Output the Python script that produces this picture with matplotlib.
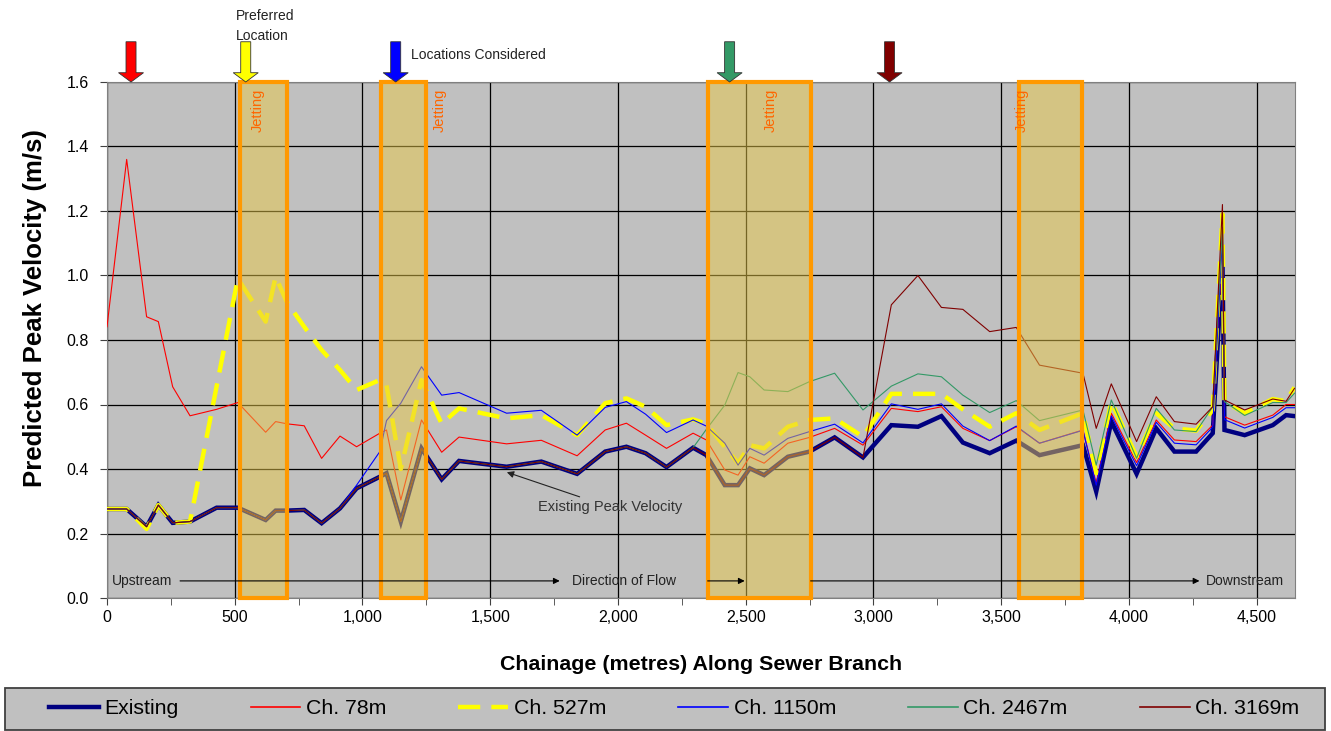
import matplotlib.pyplot as plt
from matplotlib.patches import Rectangle, Polygon
from matplotlib.lines import Line2D
from matplotlib.ticker import MultipleLocator, FuncFormatter

plt.rcParams['font.family'] = ['Liberation Sans', 'DejaVu Sans']

# chainage (m) of model nodes along the branch
chainage = [0, 77, 155, 201, 257, 325, 429, 512, 621, 660, 705, 772, 840, 912,
            977, 1068, 1094, 1150, 1231, 1310, 1378, 1564, 1700, 1840, 1950, 2033,
            2108, 2190, 2294, 2346, 2418, 2470, 2516, 2572, 2665, 2750, 2848, 2959,
            3070, 3174, 3266, 3350, 3455, 3559, 3650, 3820, 3872, 3931, 4030, 4107,
            4178, 4263, 4328, 4366, 4374, 4453, 4563, 4615, 4648]

existing = [0.276, 0.276, 0.221, 0.288, 0.233, 0.237, 0.280, 0.280, 0.242, 0.271, 0.271, 0.273, 0.232, 0.278,
            0.340, 0.376, 0.387, 0.237, 0.464, 0.368, 0.425, 0.407, 0.423, 0.385, 0.454, 0.469,
            0.449, 0.406, 0.466, 0.443, 0.350, 0.350, 0.402, 0.381, 0.438, 0.454, 0.498, 0.436,
            0.536, 0.531, 0.564, 0.482, 0.449, 0.488, 0.443, 0.474, 0.330, 0.547, 0.385, 0.526,
            0.454, 0.454, 0.511, 1.050, 0.521, 0.505, 0.536, 0.567, 0.564]

ch78 = [0.841, 1.360, 0.872, 0.857, 0.655, 0.565, 0.585, 0.606, 0.514, 0.547, 0.540, 0.534, 0.433, 0.502,
        0.469, 0.511, 0.521, 0.304, 0.552, 0.452, 0.499, 0.478, 0.489, 0.441, 0.521, 0.542,
        0.505, 0.464, 0.511, 0.490, 0.397, 0.381, 0.438, 0.418, 0.480, 0.498, 0.526, 0.474,
        0.588, 0.578, 0.593, 0.526, 0.488, 0.531, 0.480, 0.521, 0.356, 0.573, 0.420, 0.552,
        0.490, 0.485, 0.536, 1.100, 0.562, 0.536, 0.567, 0.600, 0.600]

ch527 = [0.276, 0.276, 0.214, 0.288, 0.233, 0.237, 0.656, 0.990, 0.857, 0.996, 0.916, 0.841, 0.769, 0.707,
         0.645, 0.676, 0.660, 0.400, 0.676, 0.540, 0.588, 0.557, 0.567, 0.505, 0.604, 0.619,
         0.593, 0.536, 0.554, 0.540, 0.469, 0.418, 0.474, 0.464, 0.531, 0.552, 0.557, 0.500,
         0.633, 0.633, 0.633, 0.585, 0.531, 0.573, 0.521, 0.573, 0.387, 0.609, 0.438, 0.573,
         0.526, 0.519, 0.583, 1.190, 0.609, 0.573, 0.617, 0.610, 0.653]

ch1150 = [0.276, 0.276, 0.221, 0.288, 0.233, 0.237, 0.280, 0.280, 0.242, 0.271, 0.271, 0.273, 0.232, 0.278,
          0.350, 0.454, 0.550, 0.604, 0.717, 0.629, 0.637, 0.573, 0.582, 0.505, 0.591, 0.609,
          0.570, 0.513, 0.552, 0.533, 0.480, 0.412, 0.464, 0.443, 0.495, 0.516, 0.539, 0.481,
          0.602, 0.585, 0.602, 0.533, 0.488, 0.533, 0.480, 0.520, 0.350, 0.565, 0.410, 0.545,
          0.480, 0.475, 0.530, 1.120, 0.553, 0.527, 0.560, 0.590, 0.590]

ch2467 = [0.276, 0.276, 0.221, 0.288, 0.233, 0.237, 0.280, 0.280, 0.242, 0.271, 0.271, 0.273, 0.232, 0.278,
          0.340, 0.376, 0.387, 0.237, 0.464, 0.368, 0.425, 0.407, 0.423, 0.385, 0.454, 0.469,
          0.449, 0.406, 0.466, 0.523, 0.598, 0.699, 0.686, 0.645, 0.640, 0.671, 0.697, 0.583,
          0.657, 0.695, 0.686, 0.629, 0.575, 0.612, 0.550, 0.583, 0.412, 0.614, 0.433, 0.588,
          0.521, 0.516, 0.593, 1.150, 0.609, 0.566, 0.606, 0.606, 0.635]

ch3169 = [0.276, 0.276, 0.221, 0.288, 0.233, 0.237, 0.280, 0.280, 0.242, 0.271, 0.271, 0.273, 0.232, 0.278,
          0.340, 0.376, 0.387, 0.237, 0.464, 0.368, 0.425, 0.407, 0.423, 0.385, 0.454, 0.469,
          0.449, 0.406, 0.466, 0.443, 0.350, 0.350, 0.402, 0.381, 0.438, 0.454, 0.498, 0.436,
          0.909, 1.000, 0.901, 0.895, 0.826, 0.839, 0.722, 0.697, 0.526, 0.664, 0.485, 0.624,
          0.547, 0.539, 0.593, 1.220, 0.614, 0.583, 0.617, 0.610, 0.650]

# jetting zones (start, end chainage) and where their labels sit
jet_start = [520, 1072, 2351, 3568]
jet_end = [704, 1248, 2754, 3815]
jet_label_x = [591, 1303, 2600, 3580]

# locations considered (arrows above the plot)
arrow_x = [94, 543, 1130, 2437, 3063]
arrow_colors = ['#FF0000', '#FFFF00', '#0000FF', '#339966', '#800000']

fig = plt.figure(figsize=(13.31, 7.31), dpi=100)
ax = fig.add_axes([107 / 1331, 1 - 598 / 731, 1188 / 1331, 516 / 731])
ax.set_facecolor('#C0C0C0')

ax.plot(chainage, existing, color='#000080', lw=3.2, zorder=3, solid_joinstyle='miter')
ax.plot(chainage, ch78, color='#FF0000', lw=0.8, zorder=4)
ax.plot(chainage, ch527, color='#FFFF00', lw=3.2, dashes=(5, 2.5), zorder=5)
ax.plot(chainage, ch1150, color='#0000FF', lw=0.8, zorder=6)
ax.plot(chainage, ch2467, color='#339966', lw=0.8, zorder=6)
ax.plot(chainage, ch3169, color='#800000', lw=0.8, zorder=6)

# jetting zones
for x0, x1, lx in zip(jet_start, jet_end, jet_label_x):
    ax.add_patch(Rectangle((x0, 0), x1 - x0, 1.6, facecolor='#E8C848', alpha=0.5,
                           edgecolor='none', zorder=7))
    ax.add_patch(Rectangle((x0, 0), x1 - x0, 1.6, fill=False, edgecolor='#FF9900',
                           lw=3, zorder=8, clip_on=False))
    ax.text(lx, 1.58, 'Jetting', rotation=90, ha='center', va='top', fontsize=10.5,
            color='#FF6600', zorder=9)

# arrows for the locations considered
trans = ax.get_xaxis_transform()
for x, c in zip(arrow_x, arrow_colors):
    pts = [(x - 19.6, 1.078), (x + 19.6, 1.078), (x + 19.6, 1.018), (x + 49, 1.018),
           (x, 1.0), (x - 49, 1.018), (x - 19.6, 1.018)]
    ax.add_patch(Polygon(pts, closed=True, transform=trans, facecolor=c,
                         edgecolor='#333333', lw=0.6, clip_on=False, zorder=10))

ax.text(505, 1.128, 'Preferred', transform=trans, fontsize=10, va='center', color='#222222')
ax.text(505, 1.089, 'Location', transform=trans, fontsize=10, va='center', color='#222222')
ax.text(1189, 1.052, 'Locations Considered', transform=trans, fontsize=10, va='center',
        color='#222222')

# direction of flow
flow_y = 0.053
ax.text(20, flow_y, 'Upstream', fontsize=10, va='center', color='#222222', zorder=9)
ax.text(1819, flow_y, 'Direction of Flow', fontsize=10, va='center', color='#222222', zorder=9)
ax.text(4303, flow_y, 'Downstream', fontsize=10, va='center', color='#222222', zorder=9)
for xa, xb in [(286, 1772), (2351, 2496), (2754, 4276)]:
    ax.annotate('', xy=(xb, flow_y), xytext=(xa, flow_y),
                arrowprops=dict(arrowstyle='-|>', color='black', lw=0.8,
                                shrinkA=0, shrinkB=0, mutation_scale=9), zorder=9)

ax.annotate('Existing Peak Velocity', xy=(1565, 0.39), xytext=(1686, 0.282),
            fontsize=10.5, va='center', color='#333333', zorder=9,
            arrowprops=dict(arrowstyle='-|>', color='#222222', lw=0.8,
                            shrinkA=1, shrinkB=0, mutation_scale=10))

ax.set_xlim(0, 4650)
ax.set_ylim(0, 1.6)
ax.xaxis.set_major_locator(MultipleLocator(500))
ax.xaxis.set_minor_locator(MultipleLocator(250))
ax.yaxis.set_major_locator(MultipleLocator(0.2))
ax.xaxis.set_major_formatter(FuncFormatter(lambda v, p: f'{v:,.0f}'))
ax.yaxis.set_major_formatter(FuncFormatter(lambda v, p: f'{v:.1f}'))
ax.grid(True, which='major', color='black', lw=0.9, zorder=1)
ax.set_axisbelow(True)
ax.tick_params(axis='both', which='both', direction='out', length=5, color='#404040',
               labelsize=11.5)
ax.tick_params(axis='y', pad=8)
for s in ax.spines.values():
    s.set_color('#808080')
    s.set_linewidth(0.8)

ax.set_xlabel('Chainage (metres) Along Sewer Branch', fontsize=15.4, fontweight='bold',
              labelpad=22)
ax.set_ylabel('Predicted Peak Velocity (m/s)', fontsize=18.5, fontweight='bold')
ax.yaxis.set_label_coords(-0.0505, 0.562)

# legend box along the bottom
fig.patches.append(Rectangle((5 / 1331, 1 / 731), 1320 / 1331, 42 / 731,
                             transform=fig.transFigure, facecolor='#C0C0C0',
                             edgecolor='#404040', lw=1.3, zorder=0))
handles = [Line2D([], [], color='#000080', lw=3.2),
           Line2D([], [], color='#FF0000', lw=1.2),
           Line2D([], [], color='#FFFF00', lw=3.2, dashes=(5, 2.5)),
           Line2D([], [], color='#0000FF', lw=1.2),
           Line2D([], [], color='#339966', lw=1.2),
           Line2D([], [], color='#800000', lw=1.2)]
labels = ['Existing', 'Ch. 78m', 'Ch. 527m', 'Ch. 1150m', 'Ch. 2467m', 'Ch. 3169m']
fig.legend(handles, labels, loc='center', bbox_to_anchor=(674 / 1331, 22 / 731),
           ncol=6, fontsize=15.3, frameon=False, handlelength=2.35, handletextpad=0.25,
           columnspacing=3.4, borderaxespad=0, borderpad=0)

fig.savefig('out.png', dpi=100, facecolor='white')
